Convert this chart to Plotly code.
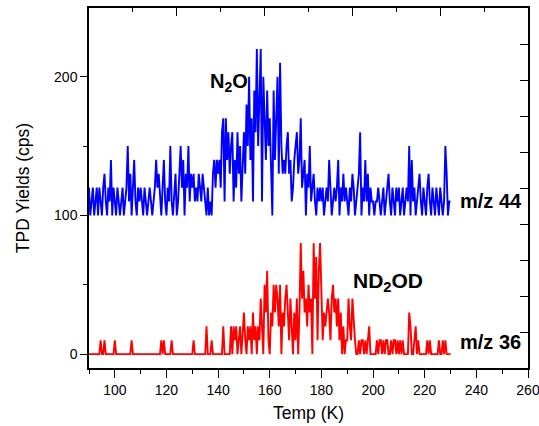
import plotly.graph_objects as go

# ---- data ----
temp_start = 90.0
temp_step = 0.5

# m/z 44 (N2O), cps, T = 90.0 ... 230.0 K in 0.5 K steps
mz44 = [
    120, 100, 110, 120, 100, 110, 120, 100, 120, 110, 100, 120, 130, 110, 100, 120, 110, 140, 100, 120,
    110, 100, 120, 110, 100, 110, 120, 100, 110, 120, 150, 110, 130, 100, 120, 140, 110, 100, 120, 110,
    120, 110, 100, 120, 110, 100, 110, 120, 110, 100, 110, 120, 140, 120, 130, 110, 100, 120, 140, 110,
    100, 120, 110, 150, 110, 100, 120, 130, 100, 110, 130, 150, 120, 140, 100, 130, 120, 150, 110, 130,
    120, 130, 110, 120, 110, 130, 120, 110, 130, 120, 110, 100, 120, 100, 110, 100, 130, 140, 120, 140,
    130, 140, 120, 160, 170, 110, 170, 140, 160, 130, 150, 160, 110, 140, 120, 160, 130, 150, 110, 140,
    160, 130, 180, 150, 200, 140, 170, 110, 190, 160, 220, 150, 180, 220, 110, 200, 170, 140, 190, 150,
    170, 140, 100, 190, 140, 170, 200, 130, 210, 150, 130, 140, 130, 150, 160, 130, 140, 110, 120, 140,
    150, 160, 130, 140, 170, 120, 130, 140, 100, 130, 120, 150, 110, 120, 130, 110, 100, 120, 110, 120,
    110, 120, 100, 110, 120, 110, 140, 120, 100, 110, 120, 110, 120, 140, 100, 120, 110, 130, 110, 120,
    110, 100, 120, 110, 130, 120, 100, 110, 120, 130, 160, 100, 120, 110, 140, 110, 130, 100, 120, 110,
    110, 100, 110, 110, 120, 110, 100, 110, 120, 100, 110, 120, 130, 110, 100, 120, 110, 100, 120, 110,
    120, 100, 110, 120, 100, 110, 120, 110, 150, 100, 140, 110, 120, 100, 110, 120, 130, 110, 100, 120,
    110, 100, 120, 130, 110, 100, 120, 110, 100, 120, 110, 100, 120, 110, 100, 110, 150, 130, 100, 110,
    110,
]

# m/z 36 (ND2OD), cps
mz36 = [
    0, 0, 0, 0, 0, 0, 0, 0, 0, 10, 0, 0, 10, 0, 0, 0, 0, 0, 0, 0,
    10, 0, 0, 0, 0, 0, 0, 0, 0, 0, 0, 0, 0, 10, 0, 0, 0, 0, 0, 0,
    0, 0, 0, 0, 0, 0, 0, 0, 0, 0, 0, 0, 0, 0, 0, 0, 10, 0, 10, 0,
    0, 0, 0, 0, 10, 0, 0, 0, 0, 0, 0, 0, 0, 0, 0, 0, 0, 0, 0, 0,
    0, 10, 0, 0, 0, 0, 0, 0, 0, 0, 0, 20, 0, 0, 0, 10, 0, 0, 0, 0,
    0, 0, 0, 0, 20, 0, 0, 0, 0, 0, 20, 0, 20, 10, 20, 0, 10, 20, 0, 20,
    30, 10, 0, 20, 10, 20, 0, 30, 10, 20, 0, 20, 10, 40, 20, 0, 50, 30, 60, 10,
    0, 30, 20, 50, 30, 50, 40, 20, 50, 0, 30, 20, 40, 50, 30, 10, 40, 20, 0, 30,
    10, 40, 0, 30, 80, 40, 60, 30, 40, 20, 50, 30, 40, 0, 80, 40, 70, 10, 60, 80,
    40, 10, 30, 20, 30, 40, 30, 10, 40, 50, 30, 40, 20, 40, 10, 30, 0, 20, 0, 10,
    10, 40, 20, 10, 40, 20, 10, 0, 0, 10, 0, 10, 10, 0, 10, 0, 10, 20, 0, 0,
    0, 0, 0, 10, 0, 10, 10, 0, 10, 0, 10, 10, 0, 0, 10, 0, 10, 10, 0, 10,
    0, 10, 0, 10, 0, 0, 0, 0, 30, 20, 0, 0, 10, 20, 0, 10, 0, 0, 0, 0,
    0, 0, 10, 0, 10, 0, 0, 0, 0, 0, 0, 10, 0, 0, 10, 0, 10, 0, 0, 0,
    0,
]

temps = [temp_start + i * temp_step for i in range(len(mz44))]

x_range = [90, 260]
y_range = [-10, 249.5]
x_tick_labels = ["100", "120", "140", "160", "180", "200", "220", "240", "260"]
x_tick_values = [100, 120, 140, 160, 180, 200, 220, 240, 260]
y_tick_values = [0, 100, 200]
y_tick_labels = ["0", "100", "200"]

FONT = "Liberation Sans, Arial, sans-serif"

fig = go.Figure()
fig.add_trace(go.Scatter(x=temps, y=mz44, mode="lines",
                         line=dict(color="#0000FF", width=1.9), showlegend=False))
fig.add_trace(go.Scatter(x=temps, y=mz36, mode="lines",
                         line=dict(color="#FF0000", width=1.9), showlegend=False))
# empty trace to hold the mirrored top/right frame axes
fig.add_trace(go.Scatter(x=[], y=[], xaxis="x2", yaxis="y2", showlegend=False))

fig.update_layout(
    width=539, height=426,
    margin=dict(l=89, r=11, t=8, b=58, autoexpand=False),
    paper_bgcolor="white", plot_bgcolor="white",
    font=dict(family=FONT, color="black"),
    xaxis=dict(
        range=x_range, tickvals=x_tick_values, ticktext=x_tick_labels,
        ticks="outside", ticklen=8, tickwidth=1.3, tickcolor="black",
        minor=dict(dtick=10, tick0=90, ticks="outside", ticklen=4, tickwidth=1.3, tickcolor="black"),
        showline=True, linecolor="black", linewidth=1.5, mirror=False,
        showgrid=False, zeroline=False, automargin=False, ticklabeloverflow="allow",
        tickfont=dict(size=14, family=FONT, color="black"),
        title=dict(text="Temp (K)", font=dict(size=17.5, family=FONT, color="black"), standoff=10),
    ),
    yaxis=dict(
        range=y_range, tickvals=y_tick_values, ticktext=y_tick_labels,
        ticks="outside", ticklen=7, tickwidth=1.3, tickcolor="black",
        minor=dict(tickvals=[50, 150], ticks="outside", ticklen=4, tickwidth=1.3, tickcolor="black"),
        showline=True, linecolor="black", linewidth=1.5,
        showgrid=False, zeroline=False, automargin=False,
        tickfont=dict(size=14, family=FONT, color="black"),
        title=dict(text="TPD Yields (cps)", font=dict(size=17.5, family=FONT, color="black"), standoff=20),
    ),
    xaxis2=dict(
        overlaying="x", side="top", anchor="y", range=[0, 10],
        tickvals=[2, 4, 6, 8], ticks="inside", ticklen=8, tickwidth=1.3, tickcolor="black",
        minor=dict(tickvals=[1, 3, 5, 7, 9], ticks="inside", ticklen=4, tickwidth=1.3, tickcolor="black"),
        showticklabels=False, showline=True, linecolor="black", linewidth=1.5,
        showgrid=False, zeroline=False, automargin=False,
    ),
    yaxis2=dict(
        overlaying="y", side="right", anchor="x", range=[0, 10],
        tickvals=[1, 2, 3, 4, 5, 6, 7, 8, 9], ticks="inside", ticklen=8, tickwidth=1.3, tickcolor="black",
        showticklabels=False, showline=True, linecolor="black", linewidth=1.5,
        showgrid=False, zeroline=False, automargin=False,
    ),
)

ann_font = dict(family=FONT, size=20, color="black")
fig.add_annotation(x=135.9, y=196, xref="x", yref="y", xanchor="left", yanchor="middle",
                   text="<b>N<sub>2</sub>O</b>", showarrow=False, font=ann_font)
fig.add_annotation(x=191.3, y=52, xref="x", yref="y", xanchor="left", yanchor="middle",
                   text="<b>ND<sub>2</sub>OD</b>", showarrow=False, font=dict(family=FONT, size=21, color="black"))
fig.add_annotation(x=233.0, y=110.5, xref="x", yref="y", xanchor="left", yanchor="middle",
                   text="<b>m/z 44</b>", showarrow=False, font=ann_font)
fig.add_annotation(x=233.0, y=8.8, xref="x", yref="y", xanchor="left", yanchor="middle",
                   text="<b>m/z 36</b>", showarrow=False, font=ann_font)

fig.write_html("out.html", config={"displayModeBar": False},
               post_script="document.body.style.margin='0';")
